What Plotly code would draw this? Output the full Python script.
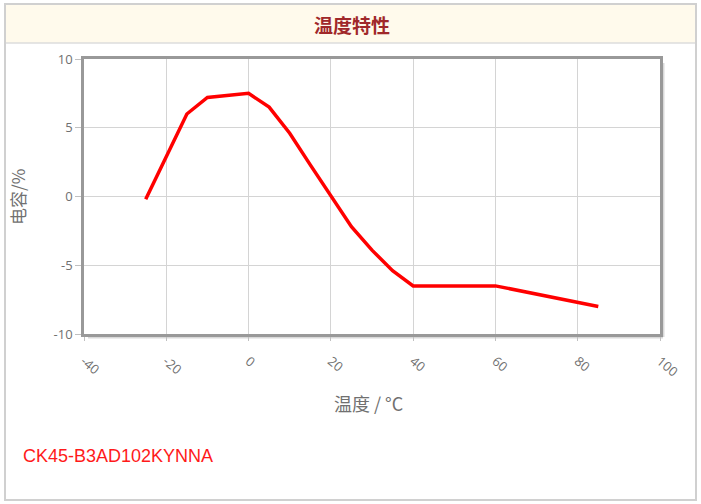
import plotly.graph_objects as go

temps = [-25, -15, -10, 0, 5, 10, 15, 20, 25, 30, 35, 40, 60, 85]
cap_change = [-0.2, 6.0, 7.2, 7.5, 6.5, 4.6, 2.3, 0.0, -2.2, -3.9, -5.4, -6.5, -6.5, -8.0]
x_ticks = [-40, -20, 0, 20, 40, 60, 80, 100]
y_ticks = [-10, -5, 0, 5, 10]

title_text = "温度特性"
x_title = "温度 / °C"
y_title = "电容/%"
part_no = "CK45-B3AD102KYNNA"

W, H = 701, 504
L, R, T, B = 84, 660, 59, 334

def px(xp):
    return (xp - L) / (R - L)

def py(yp):
    return (B - yp) / (B - T)

fig = go.Figure()
fig.add_trace(go.Scatter(
    x=temps, y=cap_change, mode="lines",
    line=dict(color="#ff0000", width=3.5),
    hoverinfo="skip", showlegend=False,
))

shapes = [
    # outer frame
    dict(type="rect", xref="paper", yref="paper", x0=px(5), x1=px(696), y0=py(500), y1=py(4),
         line=dict(color="#d0d0d0", width=2), fillcolor="white", layer="below"),
    # header band
    dict(type="rect", xref="paper", yref="paper", x0=px(6), x1=px(695), y0=py(43), y1=py(5),
         line=dict(width=0), fillcolor="#fffaec", layer="below"),
    dict(type="line", xref="paper", yref="paper", x0=px(6), x1=px(695), y0=py(43), y1=py(43),
         line=dict(color="#dcdcdc", width=1.5), layer="below"),
    # plot shadow
    dict(type="line", xref="paper", yref="paper", x0=px(R + 3), x1=px(R + 3), y0=py(B + 3), y1=py(T + 4),
         line=dict(color="rgba(0,0,0,0.15)", width=3), layer="below"),
    dict(type="line", xref="paper", yref="paper", x0=px(L + 4), x1=px(R + 3), y0=py(B + 3), y1=py(B + 3),
         line=dict(color="rgba(0,0,0,0.15)", width=3), layer="below"),
]

fig.update_layout(
    width=W, height=H,
    margin=dict(l=L, r=W - R, t=T, b=H - B),
    paper_bgcolor="white",
    plot_bgcolor="#fffcf3",
    shapes=shapes,
    font=dict(family="Open Sans, DejaVu Sans, sans-serif", color="#606060"),
    annotations=[
        dict(text="<b>" + title_text + "</b>", xref="paper", yref="paper", x=px(352), y=py(24),
             showarrow=False, font=dict(family="Noto Sans CJK SC", size=19, color="#a0282a"),
             xanchor="center", yanchor="middle"),
        dict(text=x_title, xref="paper", yref="paper", x=px(368), y=py(403),
             showarrow=False, font=dict(family="Noto Sans CJK SC", size=18, color="#707070"),
             xanchor="center", yanchor="middle"),
        dict(text=y_title, xref="paper", yref="paper", x=px(17), y=py(197), textangle=-90,
             showarrow=False, font=dict(family="Noto Sans CJK SC", size=17, color="#707070"),
             xanchor="center", yanchor="middle"),
        dict(text=part_no, xref="paper", yref="paper", x=px(21), y=py(456),
             showarrow=False, font=dict(family="Liberation Sans, Arial", size=18, color="#ff1a1a"),
             xanchor="left", yanchor="middle"),
    ],
)

fig.update_xaxes(
    range=[-40, 100], tickvals=x_ticks, ticktext=[str(v) for v in x_ticks],
    tickangle=40, tickfont=dict(size=13, color="#707070"), ticklabelstandoff=8,
    showgrid=True, gridcolor="#d4d4d4", gridwidth=1.3,
    showline=True, linecolor="#999999", linewidth=2.5, mirror=True,
    ticks="outside", ticklen=4, tickcolor="#c0c0c0", zeroline=False,
)
fig.update_yaxes(
    range=[-10, 10], tickvals=y_ticks, ticktext=[str(v) for v in y_ticks],
    tickfont=dict(size=13, color="#707070"),
    showgrid=True, gridcolor="#d4d4d4", gridwidth=1.3,
    showline=True, linecolor="#999999", linewidth=2.5, mirror=True,
    ticks="outside", ticklen=6, tickcolor="#c0c0c0", zeroline=False,
)

fig.write_html("out.html", config={"displayModeBar": False},
               post_script="document.body.style.margin='0';document.body.style.padding='0';")
